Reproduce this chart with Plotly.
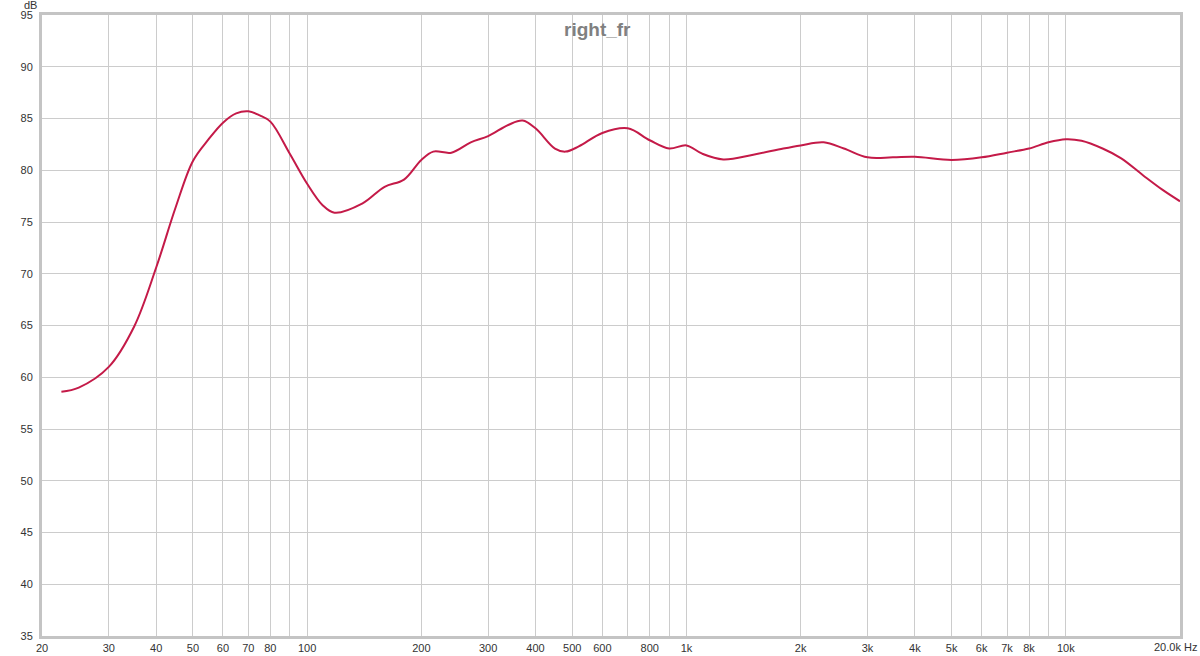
import numpy as np
import plotly.graph_objects as go

freq_hz = [22.5, 25, 30, 35, 40, 45, 50, 55, 60, 65, 70, 75, 80, 90, 100, 110, 118, 140, 160,
           180, 200, 215, 240, 270, 300, 340, 370, 400, 450, 480, 520, 600, 700, 800, 900,
           1000, 1100, 1250, 1500, 1800, 2000, 2300, 2600, 3000, 3500, 4000, 5000, 6000,
           7000, 8000, 9000, 10000, 11000, 12500, 14000, 16000, 18000, 20000]
level_db = [58.6, 59.0, 61.0, 64.9, 70.6, 76.4, 80.9, 83.0, 84.6, 85.5, 85.7, 85.3, 84.7,
            81.6, 78.7, 76.6, 75.9, 76.8, 78.4, 79.1, 81.0, 81.8, 81.7, 82.7, 83.3, 84.4,
            84.8, 84.05, 82.1, 81.8, 82.3, 83.6, 84.05, 82.9, 82.1, 82.4, 81.6, 81.05, 81.5,
            82.1, 82.4, 82.7, 82.1, 81.25, 81.25, 81.3, 81.0, 81.25, 81.7, 82.1, 82.7, 83.0,
            82.85, 82.1, 81.15, 79.5, 78.1, 77.0]

x_tick_vals = [20, 30, 40, 50, 60, 70, 80, 90, 100, 200, 300, 400, 500, 600, 700, 800, 900,
               1000, 2000, 3000, 4000, 5000, 6000, 7000, 8000, 9000, 10000]
x_tick_text = ["20", "30", "40", "50", "60", "70", "80", "", "100", "200", "300", "400",
               "500", "600", "", "800", "", "1k", "2k", "3k", "4k", "5k", "6k", "7k", "8k",
               "", "10k"]
y_tick_vals = [35, 40, 45, 50, 55, 60, 65, 70, 75, 80, 85, 90, 95]

title_text = "right_fr"

fig = go.Figure()
fig.add_trace(go.Scatter(
    x=freq_hz, y=level_db, mode="lines",
    line=dict(color="#c41a48", width=2, shape="spline", smoothing=1.0),
    hoverinfo="x+y", showlegend=False,
))

fig.update_layout(
    width=1200, height=656,
    margin=dict(l=42, r=20, t=15, b=20, autoexpand=False),
    paper_bgcolor="white", plot_bgcolor="white",
    font=dict(family="Liberation Sans, Arial, sans-serif", size=11, color="#333333"),
    xaxis=dict(
        type="log", range=[np.log10(20), np.log10(20000)],
        tickvals=x_tick_vals, ticktext=x_tick_text, automargin=False,
        showgrid=True, gridcolor="#cccccc", gridwidth=1,
        showline=True, linecolor="#c4c4c4", linewidth=3, mirror=True,
        ticks="", ticklabelstandoff=0, zeroline=False,
    ),
    yaxis=dict(
        range=[35, 95], tickvals=y_tick_vals, automargin=False,
        showgrid=True, gridcolor="#cccccc", gridwidth=1,
        showline=True, linecolor="#c4c4c4", linewidth=3, mirror=True,
        ticks="", ticklabelstandoff=4, zeroline=False,
    ),
    annotations=[
        dict(text="<b>" + title_text + "</b>", xref="paper", yref="paper", x=0.488, y=1.0,
             yshift=-2, xanchor="center", yanchor="top", showarrow=False,
             font=dict(size=19, color="#808080", family="Liberation Sans, Arial, sans-serif")),
        dict(text="dB", xref="paper", yref="paper", x=-0.003, y=1.0, yshift=2,
             xanchor="right", yanchor="bottom", showarrow=False,
             font=dict(size=11, color="#333333")),
        dict(text="20.0k Hz", xref="paper", yref="paper", x=1.0, xshift=19, y=0,
             yshift=-3, xanchor="right", yanchor="top", showarrow=False,
             font=dict(size=11, color="#333333")),
    ],
)

fig.write_html("out.html", config={"displayModeBar": False},
               post_script="document.body.style.margin='0';document.body.style.overflow='hidden';")
